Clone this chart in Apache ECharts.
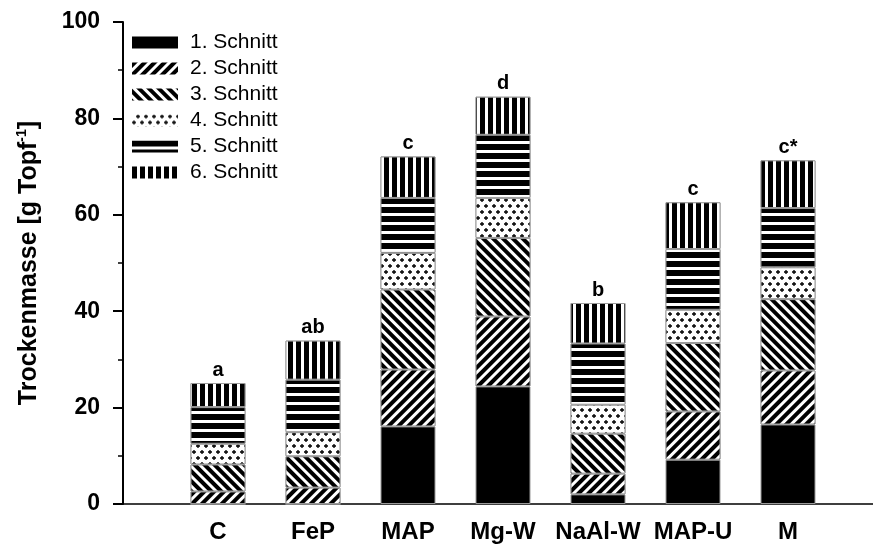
<!DOCTYPE html>
<html>
<head>
<meta charset="utf-8">
<script src="https://cdn.jsdelivr.net/npm/echarts@6/dist/echarts.min.js"></script>
<style>
  html, body { margin: 0; padding: 0; background: #fff; }
  #chart { width: 873px; height: 554px; }
</style>
</head>
<body>
<div id="chart"></div>
<script>
// Dry matter per cut, g per pot
const categories = ['C', 'FeP', 'MAP', 'Mg-W', 'NaAl-W', 'MAP-U', 'M'];
const schnitt1 = [0, 0, 16.1, 24.4, 2.0, 9.2, 16.5];
const schnitt2 = [2.6, 3.4, 11.8, 14.5, 4.3, 10.0, 11.2];
const schnitt3 = [5.6, 6.5, 16.6, 16.3, 8.3, 14.2, 14.8];
const schnitt4 = [4.3, 5.0, 7.6, 8.3, 6.0, 6.9, 6.6];
const schnitt5 = [7.6, 10.9, 11.4, 13.1, 12.7, 12.6, 12.3];
const schnitt6 = [5.0, 8.1, 8.6, 7.9, 8.4, 9.7, 9.9];
const letters = ['a', 'ab', 'c', 'd', 'b', 'c', 'c*'];
const seriesNames = ['1. Schnitt', '2. Schnitt', '3. Schnitt', '4. Schnitt', '5. Schnitt', '6. Schnitt'];

const FONT = '"Liberation Sans", Arial, sans-serif';

// The axis runs one empty slot past each end of the treatment list
const axisSlots = [''].concat(categories, ['']);
const pad = vals => [null].concat(vals, [null]);

// Hatch fills (black on white)
const decals = [
  null,
  { symbol: 'rect', symbolSize: 1, dashArrayX: [1, 0], dashArrayY: [3.2, 2.1], rotation: -Math.PI / 4, color: '#000', backgroundColor: '#fff' },
  { symbol: 'rect', symbolSize: 1, dashArrayX: [1, 0], dashArrayY: [3.2, 2.1], rotation: Math.PI / 4, color: '#000', backgroundColor: '#fff' },
  { symbol: 'path://M1,0H2V1H3V2H2V3H1V2H0V1H1Z', symbolSize: 1, dashArrayX: [[4, 4], [0, 4, 4, 0]], dashArrayY: [4, 1.5], color: '#000', backgroundColor: '#fff' },
  { symbol: 'rect', symbolSize: 1, dashArrayX: [1, 0], dashArrayY: [5.5, 2.2], color: '#000', backgroundColor: '#fff' },
  { symbol: 'rect', symbolSize: 1, dashArrayX: [5, 2.7], dashArrayY: [1, 0], color: '#000', backgroundColor: '#fff' }
];

const allSeries = [schnitt1, schnitt2, schnitt3, schnitt4, schnitt5, schnitt6];

const series = allSeries.map((vals, s) => {
  const item = {
    name: seriesNames[s],
    type: 'bar',
    stack: 'total',
    barWidth: 55,
    data: pad(vals),
    itemStyle: {
      color: s === 0 ? '#000' : '#fff',
      borderColor: '#9a9a9a',
      borderWidth: 1
    }
  };
  if (decals[s]) item.itemStyle.decal = decals[s];
  if (s === 5) {
    item.label = {
      show: true,
      position: 'top',
      distance: 3,
      formatter: p => letters[p.dataIndex - 1],
      fontFamily: FONT,
      fontWeight: 'bold',
      fontSize: 20,
      color: '#000'
    };
  }
  return item;
});

const chart = echarts.init(document.getElementById('chart'), null, { renderer: 'canvas' });
chart.setOption({
  backgroundColor: '#fff',
  animation: false,
  textStyle: { fontFamily: FONT },
  grid: { left: 123, top: 22, bottom: 50, right: -10, containLabel: false, outerBoundsMode: 'none' },
  legend: {
    orient: 'vertical',
    left: 127,
    top: 27,
    itemWidth: 46,
    itemHeight: 12,
    itemGap: 5,
    icon: 'rect',
    data: seriesNames,
    itemStyle: { borderWidth: 0 },
    textStyle: { fontFamily: FONT, fontSize: 21, color: '#000', padding: [0, 0, 0, 7] }
  },
  xAxis: {
    type: 'category',
    data: axisSlots,
    boundaryGap: false,
    axisLine: { show: true, lineStyle: { color: '#000', width: 1.5 } },
    axisTick: { show: false },
    splitLine: { show: false },
    axisLabel: {
      margin: 16,
      interval: 0,
      fontFamily: FONT,
      fontWeight: 'bold',
      fontSize: 24,
      color: '#000'
    }
  },
  yAxis: {
    type: 'value',
    min: 0,
    max: 100,
    interval: 20,
    name: '{t|Trockenmasse [g Topf}{s|-1}{t|]}',
    nameLocation: 'middle',
    nameGap: 80,
    nameRotate: 90,
    nameTextStyle: {
      rich: {
        t: { fontFamily: FONT, fontWeight: 'bold', fontSize: 25, color: '#000', lineHeight: 28 },
        s: { fontFamily: FONT, fontWeight: 'bold', fontSize: 14, color: '#000', verticalAlign: 'top', lineHeight: 28, padding: [0, 0, 10, 0] }
      }
    },
    axisLine: { show: true, lineStyle: { color: '#000', width: 2 } },
    axisTick: { show: true, length: 10, lineStyle: { color: '#000', width: 2 } },
    minorTick: { show: true, splitNumber: 2, length: 5, lineStyle: { color: '#000', width: 1.5 } },
    splitLine: { show: false },
    axisLabel: {
      margin: 23,
      fontFamily: FONT,
      fontWeight: 'bold',
      fontSize: 23,
      color: '#000'
    }
  },
  series: series
});
</script>
</body>
</html>
